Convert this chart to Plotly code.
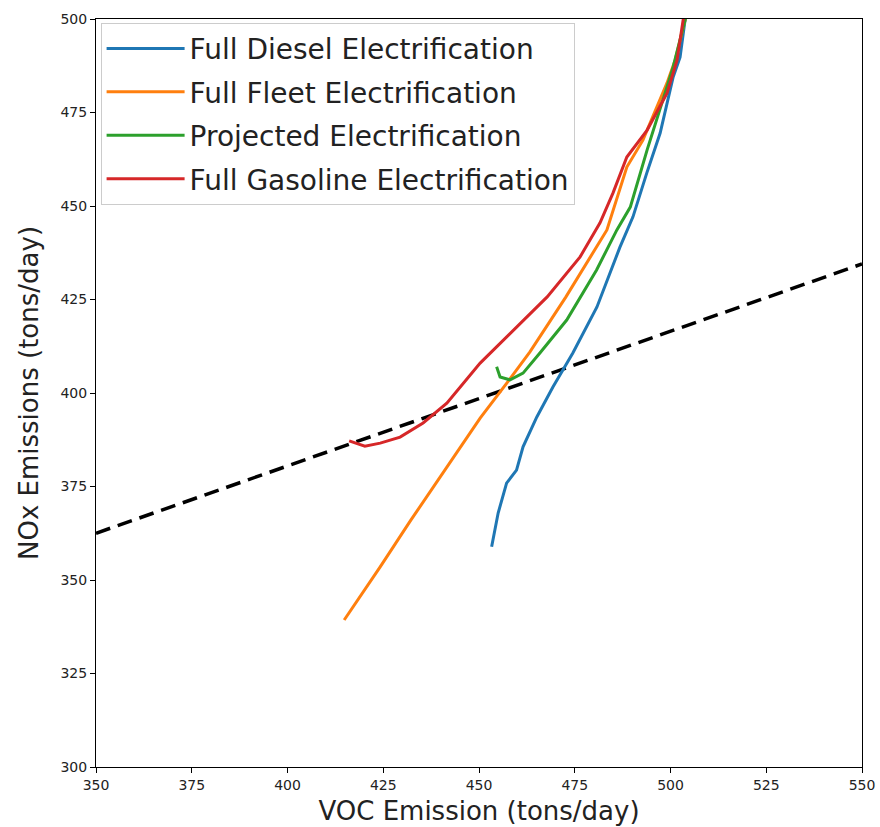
import plotly.graph_objects as go

# Data
diesel_x = [453.3, 455.0, 457.2, 459.8, 461.5, 465.1, 469.3, 474.5, 480.8, 486.8, 490.2, 493.8, 497.3, 500.7, 502.5, 503.8, 505.0]
diesel_y = [358.9, 367.9, 375.9, 379.4, 385.6, 393.6, 401.6, 410.7, 423.0, 439.0, 447.1, 458.8, 469.5, 484.5, 489.8, 499.7, 506.0]

fleet_x = [414.8, 424.2, 432.2, 442.4, 450.3, 457.3, 463.3, 472.7, 483.4, 488.6, 492.8, 499.1, 501.2, 503.8, 505.0]
fleet_y = [339.3, 353.5, 366.0, 381.5, 393.3, 402.7, 411.0, 425.7, 443.6, 460.4, 467.6, 482.9, 489.0, 499.7, 506.0]

proj_x = [454.6, 455.5, 458.1, 461.5, 465.9, 472.9, 480.7, 486.0, 489.5, 493.9, 498.0, 500.7, 503.8, 505.0]
proj_y = [407.0, 404.3, 403.5, 405.3, 410.7, 419.5, 432.9, 443.6, 449.7, 465.0, 478.3, 487.2, 499.7, 506.0]

gas_x = [416.1, 420.2, 424.2, 429.4, 435.4, 441.6, 450.3, 458.9, 467.8, 476.4, 481.6, 485.0, 488.6, 493.9, 499.1, 501.7, 503.3, 504.5]
gas_y = [387.2, 385.8, 386.6, 388.2, 392.0, 397.3, 408.0, 416.8, 425.7, 436.4, 445.5, 453.5, 463.1, 470.3, 480.2, 489.0, 499.7, 506.0]

ref_x = [350, 550]
ref_y = [362.5, 434.5]

names = ["Full Diesel Electrification", "Full Fleet Electrification",
         "Projected Electrification", "Full Gasoline Electrification"]
colors = ["#1f77b4", "#ff7f0e", "#2ca02c", "#d62728"]
series = [(diesel_x, diesel_y), (fleet_x, fleet_y), (proj_x, proj_y), (gas_x, gas_y)]

fig = go.Figure()
fig.add_trace(go.Scatter(x=ref_x, y=ref_y, mode="lines", showlegend=False,
                         line=dict(color="black", width=3.5, dash="15px,8px")))
for (xs, ys), n, c in zip(series, names, colors):
    fig.add_trace(go.Scatter(x=xs, y=ys, mode="lines", name=n, legendgroup=n,
                             line=dict(color=c, width=3)))

axis_common = dict(showgrid=False, zeroline=False, showline=True, linecolor="black",
                   linewidth=1, mirror=True, ticks="outside", ticklen=5,
                   tickcolor="black", tickfont=dict(size=14, color="#222"),
                   automargin=False)
fig.update_xaxes(range=[350, 550], tickvals=list(range(350, 551, 25)),
                 ticklabeloverflow="allow",
                 title=dict(text="VOC Emission (tons/day)", font=dict(size=26, color="#222"), standoff=10),
                 **axis_common)
fig.update_yaxes(range=[300, 500], tickvals=list(range(300, 501, 25)),
                 title=dict(text="NOx Emissions (tons/day)", font=dict(size=26, color="#222"), standoff=14),
                 **axis_common)

fig.update_layout(
    width=880, height=827,
    margin=dict(l=96, r=18, t=19, b=60),
    plot_bgcolor="white", paper_bgcolor="white",
    font=dict(family="DejaVu Sans", color="#222"),
    legend=dict(x=0.006, y=0.995, xanchor="left", yanchor="top",
                bgcolor="rgba(255,255,255,0.9)", bordercolor="#cccccc", borderwidth=1,
                font=dict(size=28, color="#222"), tracegroupgap=4, itemwidth=78),
)

fig.write_html("out.html")
